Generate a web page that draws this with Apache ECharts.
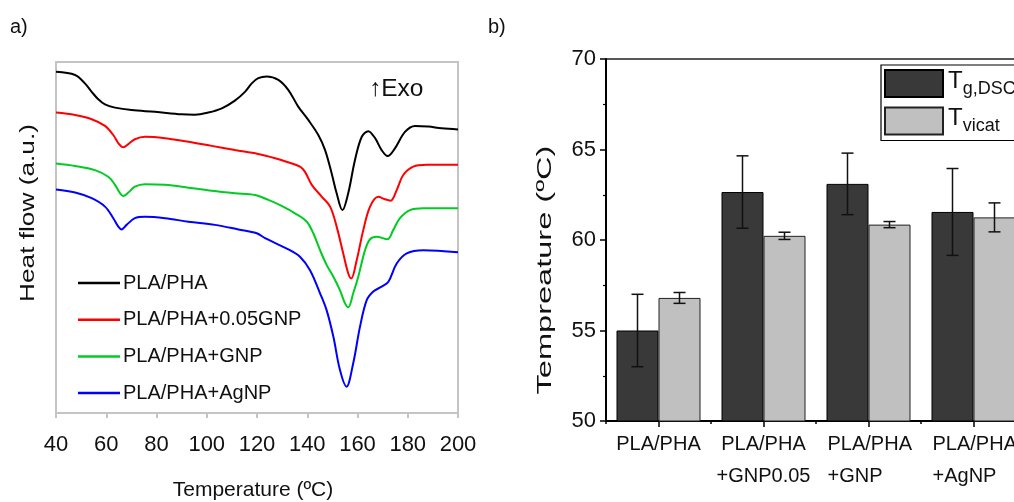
<!DOCTYPE html>
<html>
<head>
<meta charset="utf-8">
<script src="https://cdn.jsdelivr.net/npm/echarts@6/dist/echarts.min.js"></script>
<style>
html,body{margin:0;padding:0;background:#fff;}
#c{width:1014px;height:502px;}
</style>
</head>
<body>
<div id="c"></div>
<script>
// ---------- Panel a: DSC curves (heat flow in arbitrary units) ----------
const curveNames = ['PLA/PHA', 'PLA/PHA+0.05GNP', 'PLA/PHA+GNP', 'PLA/PHA+AgNP'];
const curveColors = ['#000000', '#ff0000', '#00cc22', '#0000ff'];

const phaT  = [40,47.6,51.5,54.2,56.8,59.5,63.5,70.1,79.4,90,95.3,100.6,106,111.2,115.2,117.9,120.5,123.9,128.5,132.5,136.4,140.4,144.4,147.1,149.7,151.7,154,156.3,159,161.7,164.3,167,169.6,172,174.9,178.9,182.9,188.2,193.5,200];
const phaHF = [97.2,96.3,93.9,91.5,89.4,87.9,87.0,86.3,85.8,85.1,85.0,85.6,86.8,89.0,91.5,93.9,95.4,95.9,94.9,92.0,87.3,83.5,79.2,74.9,68.3,62.6,57.8,62.6,72.1,78.7,80.3,78.3,74.9,73.2,75.4,80.1,81.8,81.6,81.1,80.8];

const gnp005T  = [40,47.6,54.2,59.5,62.8,65.1,66.8,68.8,71.4,75.4,83.4,92.7,102,111.2,120.4,127.2,132,137.1,139.1,141.8,145.8,149.1,151.7,154.3,156.3,157.5,159.7,162.3,165,168.3,170.9,173.2,175.6,178.2,182.2,187.5,200];
const gnp005HF = [85.6,84.9,83.7,81.8,79.2,76.6,75.7,76.6,78.0,78.7,78.3,77.3,76.1,74.9,73.8,72.6,71.5,70.2,68.7,65.0,61.6,58.8,53.1,45.5,39.8,38.3,43.6,52.1,58.8,61.6,60.9,60.5,63.5,67.8,70.2,70.7,70.7];

const gnpT  = [40,47.6,55.5,60.8,63.5,65.5,66.8,68.8,71.4,75.4,83.4,92.7,102,111.2,119.2,124.5,129.8,135.1,139.8,142.4,145.1,147.7,150.4,153,155,156.3,158.3,160.3,163,165,167.6,171.9,174.2,176.9,180.9,186.2,200];
const gnpHF = [71.1,70.4,69.2,67.3,65.0,62.6,61.8,62.8,64.5,65.2,65.0,64.2,63.3,62.6,62.1,60.7,59.0,56.9,54.5,51.2,46.4,42.2,38.8,35.0,31.3,30.1,34.1,38.8,46.4,49.5,50.2,49.5,52.1,55.5,57.8,58.3,58.3];

const agnpT  = [40,47.6,54.2,59.5,62.8,64.8,66.1,68.1,71.4,75.4,83.4,92.7,103.3,112.6,119.9,123.2,133.1,137.1,141.1,145.1,147.7,150.4,153,155.6,158.3,161,163.7,166.3,169.6,172.3,175.6,179.6,186.2,200];
const agnpHF = [63.7,62.8,61.2,58.8,55.5,53.1,52.3,53.6,55.5,55.9,55.5,54.5,53.6,52.3,51.2,49.8,46.4,44.5,40.7,34.1,29.3,21.7,12.3,7.5,14.2,24.6,32.2,34.6,36.0,37.4,42.6,45.5,46.4,45.8];

// ---------- Panel b: bar chart ----------
const barCats = ['PLA/PHA', 'PLA/PHA\n+GNP0.05', 'PLA/PHA\n+GNP', 'PLA/PHA\n+AgNP'];
const barNames = ['Tg,DSC', 'Tvicat'];
const tgDSC    = [55.0, 62.65, 63.1, 61.55];
const tgDSCErr = [2.0, 2.0, 1.7, 2.4];
const tVicat    = [56.8, 60.23, 60.85, 61.25];
const tVicatErr = [0.3, 0.2, 0.17, 0.8];

const FONT = 'Liberation Sans, Arial, sans-serif';

function zip(a, b) { return a.map((v, i) => [v, b[i]]); }
const curveData = [zip(phaT, phaHF), zip(gnp005T, gnp005HF), zip(gnpT, gnpHF), zip(agnpT, agnpHF)];

const lineSeries = curveNames.map((n, i) => ({
  name: n, type: 'line', xAxisIndex: 0, yAxisIndex: 0,
  data: curveData[i], smooth: 0.35, symbol: 'none', showSymbol: false,
  lineStyle: { color: curveColors[i], width: 2 }, itemStyle: { color: curveColors[i] },
  z: 3 - i * 0.1
}));

function errData(vals, errs) { return vals.map((v, i) => [i, v, errs[i]]); }

function errRender(sign) {
  return function (params, api) {
    const i = api.value(0), v = api.value(1), e = api.value(2);
    const band = api.size([1, 0])[0];
    const off = sign * band * 0.2;
    const hi = api.coord([i, v + e]);
    const lo = api.coord([i, v - e]);
    const x = hi[0] + off;
    const cap = 6;
    const st = { stroke: '#111', lineWidth: 1.5 };
    return {
      type: 'group',
      children: [
        { type: 'line', shape: { x1: x, y1: hi[1], x2: x, y2: lo[1] }, style: st },
        { type: 'line', shape: { x1: x - cap, y1: hi[1], x2: x + cap, y2: hi[1] }, style: st },
        { type: 'line', shape: { x1: x - cap, y1: lo[1], x2: x + cap, y2: lo[1] }, style: st }
      ]
    };
  };
}

const chart = echarts.init(document.getElementById('c'), null, { renderer: 'canvas' });

const option = {
  animation: false,
  backgroundColor: '#ffffff',
  textStyle: { fontFamily: FONT },
  grid: [
    { left: 56, top: 62, width: 402, height: 351, show: true, borderColor: '#c4c4c4', borderWidth: 2, containLabel: false, outerBoundsMode: 'none' },
    { left: 606, top: 59, width: 420, height: 362, show: true, borderColor: '#222', borderWidth: 1.5, containLabel: false, outerBoundsMode: 'none' }
  ],
  xAxis: [
    { gridIndex: 0, type: 'value', min: 40, max: 200, interval: 20,
      axisLine: { show: true, lineStyle: { color: '#c4c4c4', width: 2 } },
      axisTick: { show: true, inside: false, length: 5, lineStyle: { color: '#c4c4c4', width: 2 } },
      axisLabel: { fontSize: 22, color: '#111', margin: 21, fontFamily: FONT },
      splitLine: { show: false } },
    { gridIndex: 1, type: 'category', data: barCats, position: 'bottom',
      axisLine: { show: true, lineStyle: { color: '#000', width: 2 } },
      axisTick: { show: true, alignWithLabel: true, length: 6, lineStyle: { color: '#000', width: 1.5 } },
      axisLabel: {
        fontFamily: FONT, color: '#111', margin: 7, interval: 0,
        formatter: function (v) {
          const parts = v.split('\n');
          if (parts.length === 1) return '{c|' + parts[0] + '}';
          const tok = parts[1].length < parts[0].length ? 'l' : 'c';
          return '{' + tok + '|' + parts[0] + '}\n{' + tok + '|' + parts[1] + '}';
        },
        rich: {
          c: { fontSize: 20, lineHeight: 32, fontFamily: FONT, color: '#111' },
          l: { fontSize: 20, lineHeight: 32, width: 82, align: 'left', fontFamily: FONT, color: '#111' }
        }
      },
      splitLine: { show: false } },
    { gridIndex: 1, type: 'category', data: barCats, position: 'bottom', offset: 0,
      axisLine: { show: false },
      axisTick: { show: true, alignWithLabel: false, length: 3, lineStyle: { color: '#000', width: 1.5 } },
      axisLabel: { show: false }, splitLine: { show: false } }
  ],
  yAxis: [
    { gridIndex: 0, type: 'value', min: 0, max: 100,
      axisLine: { show: true, lineStyle: { color: '#c4c4c4', width: 2 } },
      axisTick: { show: false }, axisLabel: { show: false }, splitLine: { show: false } },
    { gridIndex: 1, type: 'value', min: 50, max: 70, interval: 5,
      axisLine: { show: true, lineStyle: { color: '#000', width: 2 } },
      axisTick: { show: true, inside: false, length: 6, lineStyle: { color: '#000', width: 1.5 } },
      minorTick: { show: true, splitNumber: 2, length: 3, lineStyle: { color: '#000', width: 1.2 } },
      axisLabel: { fontSize: 22, color: '#111', margin: 10, fontFamily: FONT },
      splitLine: { show: false } }
  ],
  legend: [
    { data: curveNames, orient: 'vertical', left: 78, top: 273, padding: 0,
      itemWidth: 42, itemHeight: 2.5, itemGap: 16.7, icon: 'rect',
      textStyle: { fontSize: 20, lineHeight: 20, color: '#111', fontFamily: FONT, padding: [0, 0, 0, -2] } },
    { data: barNames, orient: 'vertical', left: 881, top: 65, padding: [4, 30, 5, 3],
      itemWidth: 58, itemHeight: 27, itemGap: 8.5, icon: 'rect',
      borderColor: '#000', borderWidth: 1.2, backgroundColor: '#fff',
      formatter: function (n) {
        return n === 'Tg,DSC' ? '{t|T}{s|g,DSC}' : '{t|T}{s|vicat}';
      },
      textStyle: {
        fontFamily: FONT,
        rich: {
          t: { fontSize: 24, color: '#111', verticalAlign: 'bottom', padding: [0, 0, 5, 0], fontFamily: FONT },
          s: { fontSize: 18, color: '#111', verticalAlign: 'bottom', fontFamily: FONT }
        }
      } }
  ],
  graphic: [
    { type: 'text', left: 10, top: 17, style: { text: 'a)', fontSize: 20, fill: '#111', fontFamily: FONT } },
    { type: 'text', left: 488, top: 17, style: { text: 'b)', fontSize: 20, fill: '#111', fontFamily: FONT } },
    { type: 'text', x: 369, y: 89, style: { text: '↑Exo', fontSize: 24.5, fill: '#111', fontFamily: FONT, verticalAlign: 'middle', align: 'left' } },
    { type: 'text', x: 28, y: 213, rotation: Math.PI / 2, scaleX: 1.25,
      style: { text: 'Heat flow (a.u.)', fontSize: 21, fill: '#111', fontFamily: FONT, align: 'center', verticalAlign: 'middle' } },
    { type: 'text', x: 253, y: 490,
      style: { text: 'Temperature (ºC)', fontSize: 21, fill: '#111', fontFamily: FONT, align: 'center', verticalAlign: 'middle' } },
    { type: 'text', x: 545, y: 270, rotation: Math.PI / 2, scaleX: 1.55,
      style: { text: 'Tempreature (ºC)', fontSize: 21, fill: '#111', fontFamily: FONT, align: 'center', verticalAlign: 'middle' } }
  ],
  series: lineSeries.concat([
    { name: barNames[0], type: 'bar', xAxisIndex: 1, yAxisIndex: 1, data: tgDSC,
      barGap: '0%', barCategoryGap: '20%',
      itemStyle: { color: '#393939', borderColor: '#000', borderWidth: 1 } },
    { name: barNames[1], type: 'bar', xAxisIndex: 1, yAxisIndex: 1, data: tVicat,
      barGap: '0%', barCategoryGap: '20%',
      itemStyle: { color: '#c0c0c0', borderColor: '#222', borderWidth: 1 } },
    { name: 'errTg', type: 'custom', xAxisIndex: 1, yAxisIndex: 1, data: errData(tgDSC, tgDSCErr),
      renderItem: errRender(-1), encode: { x: 0, y: 1 }, z: 5 },
    { name: 'errVicat', type: 'custom', xAxisIndex: 1, yAxisIndex: 1, data: errData(tVicat, tVicatErr),
      renderItem: errRender(1), encode: { x: 0, y: 1 }, z: 5 }
  ])
};
chart.setOption(option);
</script>
</body>
</html>
